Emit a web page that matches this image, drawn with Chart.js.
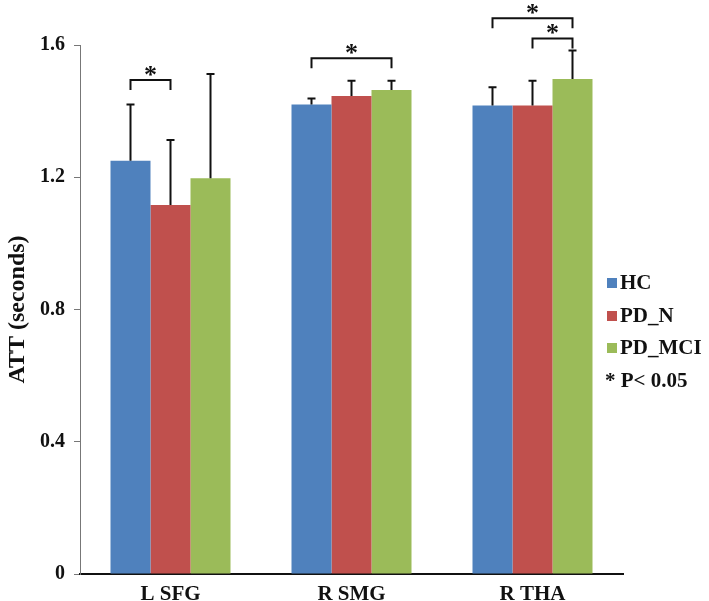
<!DOCTYPE html>
<html>
<head>
<meta charset="utf-8">
<script src="https://cdn.jsdelivr.net/npm/chart.js@4.4.1/dist/chart.umd.min.js"></script>
<style>
  body { margin: 0; background: #fff; }
  canvas { display: block; }
</style>
</head>
<body>
<canvas id="att-chart" width="709" height="601"></canvas>
<script>
// Data
const categories = ['L SFG', 'R SMG', 'R THA'];
const groups = ['HC', 'PD_N', 'PD_MCI'];
const hcMeans = [1.25, 1.42, 1.417];
const hcErr = [0.17, 0.018, 0.055];
const pdnMeans = [1.116, 1.446, 1.417];
const pdnErr = [0.197, 0.046, 0.075];
const mciMeans = [1.197, 1.464, 1.497];
const mciErr = [0.315, 0.028, 0.086];
const yTicks = [0, 0.4, 0.8, 1.2, 1.6];

// significance brackets: category, from group, to group, bracket level (seconds)
const sigCategory = [0, 1, 2, 2];
const sigFrom = [0, 0, 0, 1];
const sigTo = [1, 2, 2, 2];
const sigLevel = [1.494, 1.560, 1.681, 1.620];

const colors = ['#4f81bd', '#c0504d', '#9bbb59'];
const serif = '"Liberation Serif", "Times New Roman", serif';

const allErr = [hcErr, pdnErr, mciErr];

// 1. Error bars, brackets and the legend box
const extras = {
  id: 'extras',
  afterDatasetsDraw(chart) {
    const ctx = chart.ctx;
    const y = chart.scales.y;
    ctx.save();
    ctx.strokeStyle = '#111';
    ctx.fillStyle = '#111';
    ctx.lineWidth = 2;

    // upper error bars only
    chart.data.datasets.forEach((ds, d) => {
      const meta = chart.getDatasetMeta(d);
      meta.data.forEach((bar, i) => {
        const top = y.getPixelForValue(ds.data[i] + allErr[d][i]);
        ctx.beginPath();
        ctx.moveTo(bar.x, bar.y);
        ctx.lineTo(bar.x, top);
        ctx.moveTo(bar.x - 4, top);
        ctx.lineTo(bar.x + 4, top);
        ctx.stroke();
      });
    });

    // significance brackets
    ctx.font = 'bold 26px ' + serif;
    ctx.textAlign = 'center';
    ctx.textBaseline = 'alphabetic';
    sigLevel.forEach((lvl, k) => {
      const x1 = chart.getDatasetMeta(sigFrom[k]).data[sigCategory[k]].x;
      const x2 = chart.getDatasetMeta(sigTo[k]).data[sigCategory[k]].x;
      const py = y.getPixelForValue(lvl);
      ctx.beginPath();
      ctx.moveTo(x1, py + 10);
      ctx.lineTo(x1, py);
      ctx.lineTo(x2, py);
      ctx.lineTo(x2, py + 10);
      ctx.stroke();
      ctx.fillText('*', (x1 + x2) / 2, py + 3);
    });

    // legend
    ctx.textAlign = 'left';
    ctx.textBaseline = 'middle';
    ctx.font = 'bold 21px ' + serif;
    const rows = [283, 316, 348];
    groups.forEach((g, i) => {
      ctx.fillStyle = colors[i];
      ctx.fillRect(607, rows[i] - 5, 10, 10);
      ctx.fillStyle = '#111';
      ctx.fillText(g, 620, rows[i] + 1);
    });
    ctx.fillText('* P< 0.05', 605, 382);
    ctx.restore();
  }
};

// 2. The bar chart
const seriesMeans = [hcMeans, pdnMeans, mciMeans];
new Chart(document.getElementById('att-chart'), {
  type: 'bar',
  data: {
    labels: categories,
    datasets: groups.map((g, i) => ({
      label: g,
      data: seriesMeans[i],
      backgroundColor: colors[i],
      borderWidth: 0,
      barPercentage: 1,
      categoryPercentage: 0.663
    }))
  },
  options: {
    responsive: false,
    animation: false,
    devicePixelRatio: 1,
    layout: { padding: { top: 45, right: 86, left: 0, bottom: 0 } },
    plugins: { legend: { display: false }, tooltip: { enabled: false } },
    scales: {
      x: {
        grid: { display: false },
        border: { color: '#111', width: 2 },
        ticks: { color: '#111', padding: 0, font: { family: serif, size: 21, weight: 'bold' } },
        afterFit(scale) { scale.height = 27; }
      },
      y: {
        min: 0,
        max: 1.6,
        afterBuildTicks(scale) { scale.ticks = yTicks.map(v => ({ value: v })); },
        grid: { drawOnChartArea: false, color: '#777', tickLength: 6 },
        border: { color: '#777', width: 1 },
        ticks: { color: '#111', padding: 9, font: { family: serif, size: 20, weight: 'bold' } },
        title: {
          display: true,
          text: 'ATT (seconds)',
          color: '#111',
          padding: { top: 3, bottom: 3 },
          font: { family: serif, size: 24, weight: 'bold' }
        },
        afterFit(scale) { scale.width = 80; }
      }
    }
  },
  plugins: [extras]
});
</script>
</body>
</html>
